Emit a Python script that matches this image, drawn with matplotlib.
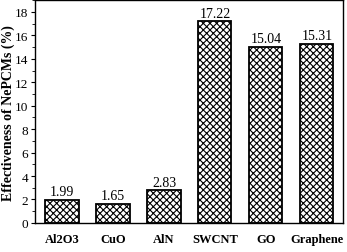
import matplotlib
matplotlib.use("Agg")
import matplotlib.pyplot as plt
from matplotlib.ticker import MultipleLocator

categories = ["Al2O3", "CuO", "AlN", "SWCNT", "GO", "Graphene"]
values = [1.99, 1.65, 2.83, 17.22, 15.04, 15.31]
labels = ["1.99", "1.65", "2.83", "17.22", "15.04", "15.31"]

plt.rcParams['font.family'] = ['Liberation Serif', 'DejaVu Serif']
plt.rcParams['hatch.linewidth'] = 0.8

fig = plt.figure(figsize=(3.47, 2.53), dpi=100)
ax = fig.add_axes([0.101, 0.115, 0.887, 0.88])
x = list(range(len(categories)))
bars = ax.bar(x, values, width=0.65, color='white', edgecolor='black', hatch='xxxxx', linewidth=1.3)
for xi, v, lab in zip(x, values, labels):
    ax.text(xi, v + 0.1, lab, ha='center', va='bottom', fontsize=10)
ax.set_xlim(-0.53, 5.51)
ax.set_ylim(0, 19)
ax.set_xticks(x)
ax.set_xticklabels(categories, fontweight='bold', fontsize=9)
ax.tick_params(axis='x', length=0, pad=7)
ax.yaxis.set_major_locator(MultipleLocator(2))
ax.yaxis.set_minor_locator(MultipleLocator(1))
ax.tick_params(axis='y', which='major', length=3, labelsize=9.5, pad=2)
ax.tick_params(axis='y', which='minor', length=2)
ax.set_ylabel("Effectiveness of NePCMs (%)", fontweight='bold', fontsize=10)
ax.yaxis.set_label_coords(-0.066, 0.5)
for s in ax.spines.values():
    s.set_linewidth(1.0)
fig.savefig("out.png", dpi=100)
